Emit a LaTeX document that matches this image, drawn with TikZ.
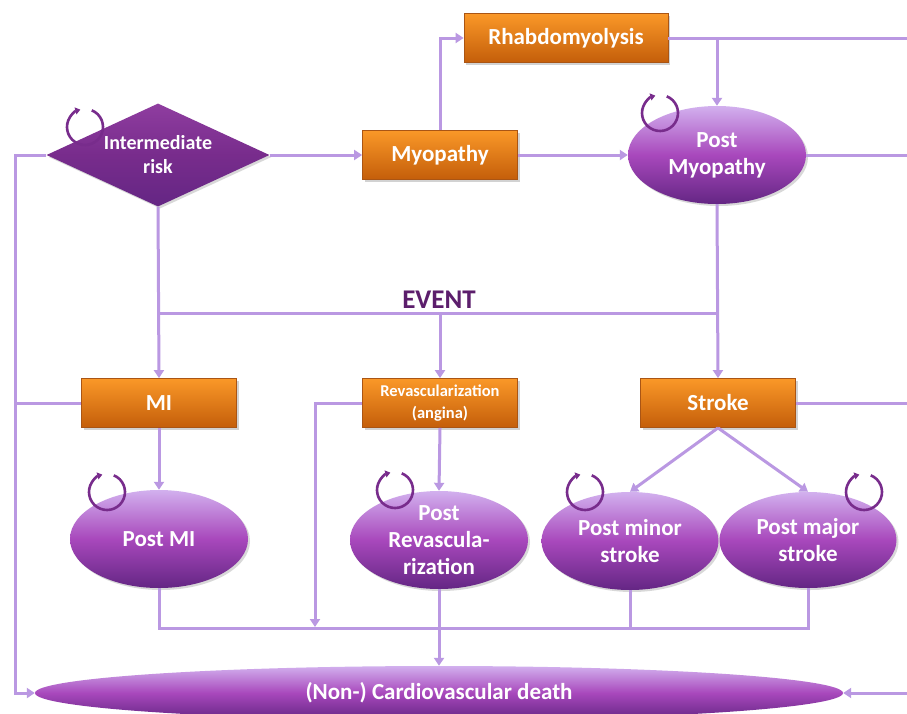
\documentclass[tikz,border=0pt]{standalone}
\usepackage{fontspec}
\setmainfont{Carlito}
\usetikzlibrary{shapes.geometric,arrows.meta,shadows,calc}
\definecolor{conn}{RGB}{186,152,226}
\definecolor{orT}{RGB}{250,152,40}
\definecolor{orB}{RGB}{196,94,10}
\definecolor{orD}{RGB}{170,85,20}
\definecolor{puT}{RGB}{210,176,238}
\definecolor{puM}{RGB}{168,72,188}
\definecolor{puB}{RGB}{100,38,132}
\definecolor{dkp}{RGB}{120,44,140}
\definecolor{evt}{RGB}{92,30,108}
\tikzset{
  conline/.style={draw=conn, line width=3pt},
  arr/.style={conline, -{Triangle[width=10pt,length=8pt]}},
  obox/.style={rectangle, draw=orD, line width=0.8pt, top color=orT, bottom color=orB,
     minimum width=155pt, minimum height=49pt, inner sep=0pt, text=white,
     font=\fontsize{23}{27}\selectfont\bfseries, align=center,
     drop shadow={opacity=0.35, shadow xshift=2pt, shadow yshift=-2pt}},
  pell/.style={ellipse, draw=none, top color=puT, bottom color=puB, middle color=puM,
     minimum width=178pt, minimum height=98pt, inner sep=0pt, text=white,
     font=\fontsize{23}{27}\selectfont\bfseries, align=center,
     drop shadow={opacity=0.3, shadow xshift=2pt, shadow yshift=-2pt}},
  looparrow/.style={draw=dkp, line width=2.6pt, -{Triangle[width=7pt,length=5pt]}},
}
\newcommand{\loopicon}[1]{\draw[looparrow] ($(#1)+(68:18pt)$) arc[start angle=68, end angle=-255, radius=18pt];}
\begin{document}
\begin{tikzpicture}[x=1pt,y=-1pt]
\useasboundingbox (0,0) rectangle (907,713);
\clip (0,0) rectangle (907,713);
\fill[white] (0,0) rectangle (907,713);

% nodes
\node[diamond, draw=none, top color=puM!85!black, bottom color=puB, middle color=dkp,
  minimum width=223pt, minimum height=103pt, inner sep=0pt, aspect=2.16, text=white,
  font=\fontsize{20}{24}\selectfont\bfseries, align=center,
  drop shadow={opacity=0.3, shadow xshift=2pt, shadow yshift=-2pt}] (risk) at (158,155) {Intermediate\\risk};
\node[obox] (myo) at (440,155) {Myopathy};
\node[obox, minimum width=204pt] (rhab) at (566,38) {Rhabdomyolysis};
\node[pell] (pmyo) at (717,155) {Post\\Myopathy};
\node[obox] (mi) at (159,403) {MI};
\node[obox, font=\fontsize{16.5}{22}\selectfont\bfseries] (rev) at (440,403) {Revascularization\\(angina)};
\node[obox] (stroke) at (718,403) {Stroke};
\node[pell] (pmi) at (159,539) {Post MI};
\node[pell] (prev) at (439,540) {Post\\Revascula-\\rization};
\node[pell, minimum width=177pt] (pmin) at (630,541) {Post minor\\stroke};
\node[pell, minimum width=177pt, minimum height=96pt] (pmaj) at (808,540) {Post major\\stroke};
\node[ellipse, draw=none, top color=puT, bottom color=puB, middle color=puM,
  minimum width=808pt, minimum height=54pt, inner sep=0pt] (death) at (439,693) {};
\node[text=white, font=\fontsize{23}{27}\selectfont\bfseries] (deathtxt) at (439,693) {(Non-) Cardiovascular death};
\node[text=evt, font=\fontsize{27}{30}\selectfont\bfseries] (event) at (439,300) {EVENT};

% junction coordinates
\coordinate (lx1) at (15,155);
\coordinate (lx2) at (15,693);
\coordinate (lmi) at (15,403);
\coordinate (myotop) at (440,38);
\coordinate (rj) at (717,38);
\coordinate (re1) at (907,38);
\coordinate (re2) at (907,155);
\coordinate (re3) at (907,403);
\coordinate (re4) at (907,693);
\coordinate (ev1) at (158,313);
\coordinate (ev2) at (440,313);
\coordinate (ev3) at (717,313);
\coordinate (rv1) at (315,403);
\coordinate (rv2) at (315,627);
\coordinate (b1) at (159,628);
\coordinate (b2) at (808,628);
\coordinate (b3) at (630,628);

% connectors
\draw[arr] (risk.west) -- (lx1) -- (lx2) -- (death.west);
\draw[conline] (mi.west) -- (lmi);
\draw[arr] (risk.east) -- (myo.west);
\draw[arr] (myo.north) -- (myotop) -- (rhab.west);
\draw[arr] (myo.east) -- (pmyo.west);
\draw[conline] (rhab.east) -- (re1);
\draw[arr] (rj) -- (pmyo.north);
\draw[conline] (pmyo.east) -- (re2);
\draw[conline] (stroke.east) -- (re3);
\draw[arr] (re4) -- (death.east);
\draw[arr] (risk.south) -- (mi.north);
\draw[conline] (ev1) -- (ev3);
\draw[arr] (ev2) -- (rev.north);
\draw[arr] (pmyo.south) -- (stroke.north);
\draw[arr] (mi.south) -- (pmi.north);
\draw[arr] (rev.south) -- (prev.north);
\draw[arr] (stroke.south) -- (pmin.north);
\draw[arr] (stroke.south) -- (pmaj.north);
\draw[arr] (rev.west) -- (rv1) -- (rv2);
\draw[conline] (pmi.south) -- (b1) -- (b2) -- (pmaj.south);
\draw[conline] (pmin.south) -- (b3);
\draw[arr] (prev.south) -- (death.north);

% loop icons
\coordinate (l1) at (85,127);
\coordinate (l2) at (660,113);
\coordinate (l3) at (107,492);
\coordinate (l4) at (395,490);
\coordinate (l5) at (585,492);
\coordinate (l6) at (864,492);
\loopicon{l1}
\loopicon{l2}
\loopicon{l3}
\loopicon{l4}
\loopicon{l5}
\loopicon{l6}
\end{tikzpicture}
\end{document}
